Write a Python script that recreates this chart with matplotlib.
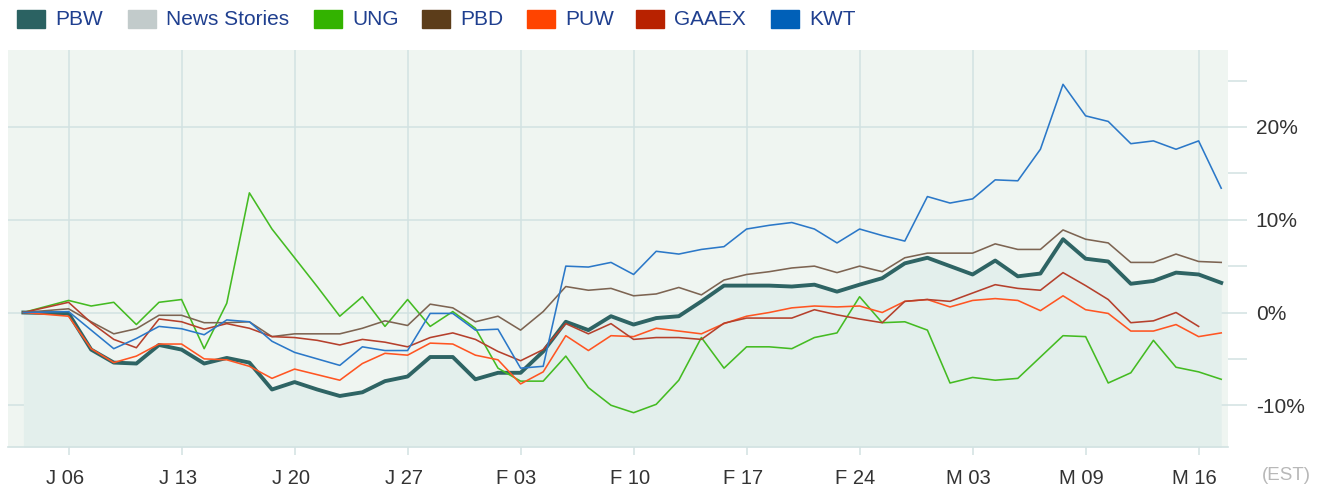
import matplotlib
matplotlib.use("Agg")
import matplotlib.pyplot as plt
from matplotlib.patches import Rectangle
from matplotlib.transforms import ScaledTranslation
import numpy as np

plt.rcParams['font.family'] = ['Liberation Sans', 'DejaVu Sans']

# trading-session index of each data point (session 1 missing)
session = [0] + list(range(2, 54))

PBW = [0, -0.1, -4.0, -5.4, -5.5, -3.5, -4.0, -5.5, -4.9, -5.4, -8.3, -7.5, -8.3, -9.0,
       -8.6, -7.4, -6.9, -4.8, -4.8, -7.2, -6.5, -6.5, -4.2, -1.0, -1.9, -0.4, -1.3, -0.6,
       -0.4, 1.2, 2.9, 2.9, 2.9, 2.8, 3.0, 2.25, 3.0, 3.7, 5.3, 5.9, 5.0, 4.1, 5.6, 3.9,
       4.2, 7.9, 5.8, 5.5, 3.1, 3.4, 4.3, 4.1, 3.2]
UNG = [0, 1.3, 0.7, 1.1, -1.3, 1.1, 1.4, -3.9, 1.0, 12.9, 9.0, 5.9, 2.8, -0.4, 1.7,
       -1.5, 1.4, -1.5, 0.1, -1.7, -6.0, -7.4, -7.4, -4.7, -8.1, -10.0, -10.8, -9.9, -7.3,
       -2.7, -6.0, -3.7, -3.7, -3.9, -2.7, -2.2, 1.7, -1.1, -1.0, -1.9, -7.6, -7.0, -7.3,
       -7.1, -4.8, -2.5, -2.6, -7.6, -6.5, -3.0, -5.9, -6.4, -7.2]
PBD = [0, 0.4, -1.0, -2.3, -1.75, -0.3, -0.3, -1.1, -1.1, -1.0, -2.6, -2.3, -2.3, -2.3,
       -1.7, -0.9, -1.4, 0.9, 0.5, -1.0, -0.4, -1.9, 0.1, 2.8, 2.4, 2.6, 1.8, 2.0, 2.7, 1.9,
       3.5, 4.1, 4.4, 4.8, 5.0, 4.3, 5.0, 4.4, 5.9, 6.4, 6.4, 6.4, 7.4, 6.8, 6.8, 8.9, 7.9,
       7.5, 5.4, 5.4, 6.3, 5.5, 5.4]
PUW = [0, -0.4, -3.9, -5.4, -4.7, -3.4, -3.4, -5.0, -5.1, -5.8, -7.1, -6.1, -6.7, -7.3,
       -5.5, -4.4, -4.6, -3.3, -3.4, -4.6, -5.1, -7.7, -6.4, -2.5, -4.1, -2.5, -2.6, -1.7,
       -2.0, -2.3, -1.2, -0.4, 0.0, 0.5, 0.7, 0.6, 0.7, 0.0, 1.2, 1.4, 0.6, 1.3, 1.5, 1.3,
       0.2, 1.8, 0.3, -0.1, -2.0, -2.0, -1.3, -2.6, -2.2]
GAAEX = [0, 1.1, -1.1, -2.9, -3.8, -0.7, -1.0, -1.8, -1.2, -1.7, -2.6, -2.7, -3.0, -3.5,
         -2.9, -3.2, -3.7, -2.7, -2.2, -2.9, -4.2, -5.2, -4.0, -1.2, -2.3, -1.2, -2.9, -2.7,
         -2.7, -2.9, -1.15, -0.6, -0.6, -0.6, 0.3, -0.25, -0.7, -1.1, 1.2, 1.4, 1.2, 2.1,
         3.0, 2.6, 2.4, 4.3, 2.9, 1.4, -1.1, -0.9, 0.0, -1.5, np.nan]
KWT = [0, 0.1, -1.9, -3.9, -2.8, -1.5, -1.75, -2.4, -0.8, -1.0, -3.1, -4.3, -5.0, -5.7,
       -3.7, -4.1, -4.1, -0.1, -0.1, -1.9, -1.8, -6.0, -5.8, 5.0, 4.9, 5.4, 4.1, 6.6, 6.3,
       6.8, 7.1, 9.0, 9.4, 9.7, 9.0, 7.5, 9.0, 8.3, 7.7, 12.5, 11.8, 12.25, 14.3, 14.2,
       17.6, 24.6, 21.2, 20.6, 18.2, 18.5, 17.6, 18.5, 13.4]

tick_sessions = [2, 7, 12, 17, 22, 27, 32, 37, 42, 47, 52]
tick_labels = ["J 06", "J 13", "J 20", "J 27", "F 03", "F 10", "F 17", "F 24",
               "M 03", "M 09", "M 16"]
y_major = [-10, 0, 10, 20]
y_minor = [-5, 5, 15, 25]

legend_names = ["PBW", "News Stories", "UNG", "PBD", "PUW", "GAAEX", "KWT"]
legend_colors = ["#2b6262", "#c2cbcb", "#33b300", "#5c3d1a", "#ff4400", "#b82200", "#0060b8"]

line_colors = {"PBW": "#2e6464", "UNG": "#44bb22", "PBD": "#7d6452",
               "PUW": "#ff5522", "GAAEX": "#b5402c", "KWT": "#2b78c8"}

W, H = 1325, 487
fig = plt.figure(figsize=(W / 100, H / 100), dpi=100)
fig.patch.set_facecolor("white")

left, right, top, bottom = 8, 1228, 50, 447
ax = fig.add_axes([left / W, 1 - bottom / H, (right - left) / W, (bottom - top) / H])
ax.set_facecolor("#eff5f1")
ax.set_xlim(-0.68, 53.3)
ax.set_ylim(-14.5, 28.3)

grid_c = "#d2e2e2"
for t in tick_sessions:
    ax.axvline(t, color=grid_c, lw=1.1, zorder=1)
for v in y_major:
    ax.axhline(v, color=grid_c, lw=1.1, zorder=1)

ax.fill_between(session, PBW, -14.5, color="#e3efec", zorder=1.5, lw=0)

ax.plot(session, PBW, color=line_colors["PBW"], lw=2.8, zorder=3, solid_joinstyle="round")
for name, vals in [("UNG", UNG), ("PBD", PBD), ("PUW", PUW), ("GAAEX", GAAEX), ("KWT", KWT)]:
    ax.plot(session, vals, color=line_colors[name], lw=1.15, zorder=4)

for s in ax.spines.values():
    s.set_visible(False)
ax.axhline(-14.5, color=grid_c, lw=1.2, zorder=2, clip_on=False)

ax.set_xticks(tick_sessions)
ax.set_xticklabels(tick_labels)
ax.tick_params(axis="x", length=6, width=1.1, color=grid_c, pad=10,
               labelsize=14.5, labelcolor="#333333")
shift = ScaledTranslation(-4 / 100, 0, fig.dpi_scale_trans)
for lab in ax.get_xticklabels():
    lab.set_transform(lab.get_transform() + shift)

ax.yaxis.tick_right()
ax.set_yticks(y_major)
ax.set_yticklabels([f"{v}%" for v in y_major])
ax.set_yticks(y_minor, minor=True)
ax.tick_params(axis="y", which="both", length=14, width=1.1, color=grid_c, pad=6,
               labelsize=15, labelcolor="#333333")

fig.text(1286 / W, 1 - 475 / H, "(EST)", ha="center", va="center",
         fontsize=13.5, color="#b8b8b8")

# legend
sq_x = [17, 128, 314, 422, 527, 636, 771]
for name, col, x0 in zip(legend_names, legend_colors, sq_x):
    fig.patches.append(Rectangle((x0 / W, 1 - 28 / H), 28 / W, 18 / H,
                                 transform=fig.transFigure, color=col))
    fig.text((x0 + 38) / W, 1 - 19.5 / H, name, ha="left", va="center",
             fontsize=15, color="#1f3f8f")

fig.savefig("out.png", dpi=100)
